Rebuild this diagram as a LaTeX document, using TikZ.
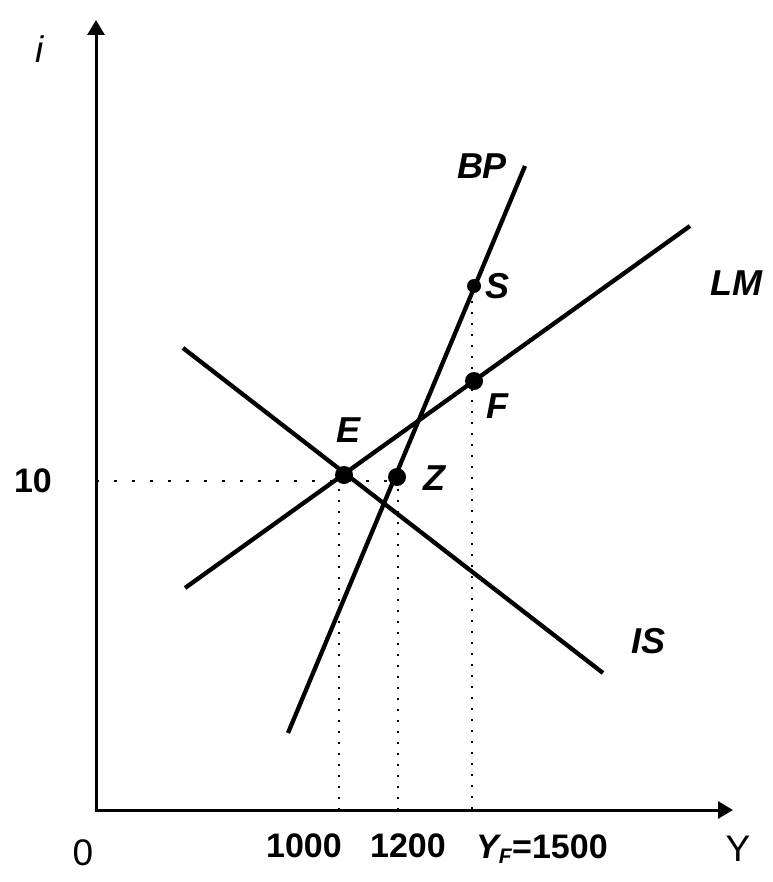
\documentclass[tikz,border=0pt]{standalone}
\usepackage{fontspec}
\setmainfont{Liberation Sans}
\usetikzlibrary{arrows.meta}
\tikzset{
  curve/.style={line width=4.3pt},
  axisline/.style={line width=3pt,{Triangle[width=17pt,length=15pt]}-{Triangle[width=17pt,length=15pt]}},
  guide/.style={line width=1.8pt,dash pattern=on 2pt off 9pt},
  hguide/.style={line width=1.8pt,dash pattern=on 3pt off 15pt},
  bigdot/.style={circle,fill=black,inner sep=0pt,minimum size=18pt},
  smalldot/.style={circle,fill=black,inner sep=0pt,minimum size=14pt},
  lab/.style={font=\fontsize{36}{42}\selectfont\bfseries\itshape,inner sep=0pt},
  num/.style={font=\fontsize{34}{40}\selectfont\bfseries,inner sep=0pt},
  axlab/.style={font=\fontsize{37}{42}\selectfont,inner sep=0pt},
}
\begin{document}
\begin{tikzpicture}[x=1pt,y=-1pt]
\useasboundingbox (0,0) rectangle (772,882);
% axes
\coordinate (O) at (96,810);
\coordinate (Ytop) at (96,20);
\coordinate (Xend) at (733,810);
\draw[axisline] (Ytop) -- (O) -- (Xend);
% curve end points
\coordinate (IS1) at (183,348);
\coordinate (IS2) at (603,673);
\coordinate (LM1) at (185,588);
\coordinate (LM2) at (690,226);
\coordinate (BP1) at (288,733);
\coordinate (BP2) at (525,166);
% guides
\coordinate (h0) at (96,481);
\coordinate (h1) at (397,481);
\draw[hguide] (h0) -- (h1);
\coordinate (vE) at (339,478);
\coordinate (vZ) at (398,478);
\coordinate (vS) at (472,290);
\draw[guide] (vE) -- (vE |- O);
\draw[guide] (vZ) -- (vZ |- O);
\draw[guide] (vS) -- (vS |- O);
% curves
\draw[curve] (IS1) -- (IS2);
\draw[curve] (LM1) -- (LM2);
\draw[curve] (BP1) -- (BP2);
% points
\node[bigdot] (E) at (344,475) {};
\node[bigdot] (Z) at (397,477) {};
\node[bigdot] (F) at (474,381) {};
\node[smalldot] (S) at (474,286) {};
% labels
\node[lab] (lE) at (349,430) {E};
\node[lab] (lZ) at (434,478) {Z};
\node[lab] (lF) at (497,406) {F};
\node[lab] (lS) at (497,286) {S};
\node[lab] (lBP) at (482,166) {BP};
\node[lab] (lLM) at (736,283) {LM};
\node[lab] (lIS) at (648,641) {IS};
\node[num] (l10) at (33,481) {10};
\node[num] (l1000) at (304,846) {1000};
\node[num] (l1200) at (408,846) {1200};
\node[num,anchor=base west] (lYF) at (476,858) {\itshape Y\textsubscript{\fontsize{21}{21}\selectfont F}\upshape=1500};
\node[axlab] (l0) at (83,853) {0};
\node[axlab] (lY) at (738,849) {Y};
\node[axlab] (li) at (40,49) {\itshape i};
\end{tikzpicture}
\end{document}
